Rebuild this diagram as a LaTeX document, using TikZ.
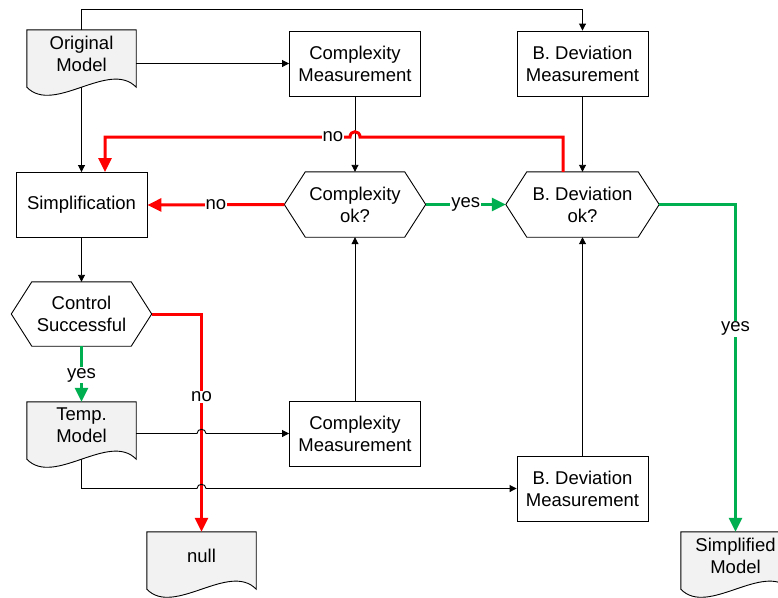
\documentclass[tikz,border=0pt]{standalone}
\usepackage{fontspec}
\setmainfont{Liberation Sans}
\usetikzlibrary{arrows.meta,calc,backgrounds}
\definecolor{myred}{HTML}{FF0000}
\definecolor{mygreen}{HTML}{00B050}
\definecolor{docgray}{HTML}{F2F2F2}
\begin{document}
\begin{tikzpicture}[x=1pt,y=-1pt,
  txt/.style={font=\fontsize{18.5}{22}\selectfont, align=center, inner sep=0pt},
  boxn/.style={txt, draw, line width=0.9pt, minimum width=131pt, minimum height=65pt},
  hexn/.style={txt, minimum height=65pt},
  docn/.style={txt, minimum width=109pt, minimum height=47pt},
  docline/.style={draw=black, fill=docgray, line width=0.9pt},
  hexline/.style={draw=black, line width=0.9pt},
  arr/.style={draw=black, line width=0.9pt, -{Triangle[length=7pt,width=7pt]}},
  redarr/.style={draw=myred, line width=3pt, -{Triangle[length=14pt,width=13pt]}},
  greenarr/.style={draw=mygreen, line width=3pt, -{Triangle[length=14pt,width=13pt]}},
  lbl/.style={txt, fill=white, inner sep=1pt},
]
\path[use as bounding box, clip] (0,0) rectangle (778,597);

% nodes
\node[docn] (om) at (81.5,53.5) {Original\\Model};
\node[boxn] (cm1) at (355,63.5) {Complexity\\Measurement};
\node[boxn] (bd1) at (582.5,63.5) {B. Deviation\\Measurement};
\node[boxn] (simp) at (81.5,205) {Simplification};
\node[hexn, minimum width=141pt] (cok) at (355,204.5) {Complexity\\ok?};
\node[hexn, minimum width=153pt] (bok) at (582.5,204.5) {B. Deviation\\ok?};
\node[hexn, minimum width=140pt, minimum height=64pt] (ctl) at (81.5,314) {Control\\Successful};
\node[docn] (tm) at (81.5,425.5) {Temp.\\Model};
\node[boxn] (cm2) at (355,433.5) {Complexity\\Measurement};
\node[boxn] (bd2) at (582.5,488.5) {B. Deviation\\Measurement};
\node[docn] (nl) at (201.5,555.5) {null};
\node[docn] (sm) at (735.5,555.5) {Simplified\\Model};

% document shapes
\begin{scope}[on background layer]
\foreach \n in {om,tm,nl,sm} {
  \path[docline] (\n.north west) -- (\n.north east) -- ([yshift=-10pt]\n.south east)
    .. controls +(-27,-28) and +(27,28) .. ([yshift=-10pt]\n.south west) -- cycle;
}
\end{scope}

% hexagons
\foreach \n/\c in {cok/21,bok/21,ctl/20.5}
  \draw[hexline] (\n.west) -- ([xshift=\c pt]\n.north west) -- ([xshift=-\c pt]\n.north east)
    -- (\n.east) -- ([xshift=-\c pt]\n.south east) -- ([xshift=\c pt]\n.south west) -- cycle;

\coordinate (topy) at (0,9.5);
\coordinate (noy) at (0,137);

% black connectors
\draw[arr] (om.north) -- (om.north |- topy) -- (bd1.north |- topy) -- (bd1.north);
\draw[arr] (om.east |- cm1.west) -- (cm1.west);
\draw[arr] ([yshift=-10pt]om.south) -- (simp.north);
\draw[arr] (cm1.south) -- (cok.north);
\draw[arr] (bd1.south) -- (bok.north);
\draw[arr] (simp.south) -- (ctl.north);
\draw[arr] (cm2.north) -- (cok.south);
\draw[arr] (bd2.north) -- (bok.south);

% red / green connectors
\draw[redarr] (cok.west) -- node[lbl,pos=0.5]{no} (simp.east);
\draw[greenarr] (cok.east) -- node[lbl]{yes} (bok.west);
\draw[redarr] ([xshift=-19.5pt]bok.north) -- ([xshift=-19.5pt]bok.north |- noy)
  -- ([xshift=5pt]cok.north |- noy) .. controls +(0,-7) and +(0,-7) .. ([xshift=-5pt]cok.north |- noy)
  -- node[lbl,pos=0.07]{no} ([xshift=23.5pt]simp.north |- noy) -- ([xshift=23.5pt]simp.north);
\draw[greenarr] (ctl.south) -- node[lbl,pos=0.52]{yes} (tm.north);
\draw[redarr] (ctl.east) -| node[lbl,pos=0.69]{no} (nl.north);
\draw[greenarr] (bok.east) -| node[lbl,pos=0.69]{yes} (sm.north);

% black connectors with hops over the red line
\draw[arr] (tm.east |- cm2.west) -- ([xshift=-4.5pt]nl.north |- cm2.west)
  .. controls +(0,-5.5) and +(0,-5.5) .. ([xshift=4.5pt]nl.north |- cm2.west) -- (cm2.west);
\draw[arr] ([yshift=-10pt]tm.south) -- (tm.south |- bd2.west) -- ([xshift=-4.5pt]nl.north |- bd2.west)
  .. controls +(0,-5.5) and +(0,-5.5) .. ([xshift=4.5pt]nl.north |- bd2.west) -- (bd2.west);
\end{tikzpicture}
\end{document}
